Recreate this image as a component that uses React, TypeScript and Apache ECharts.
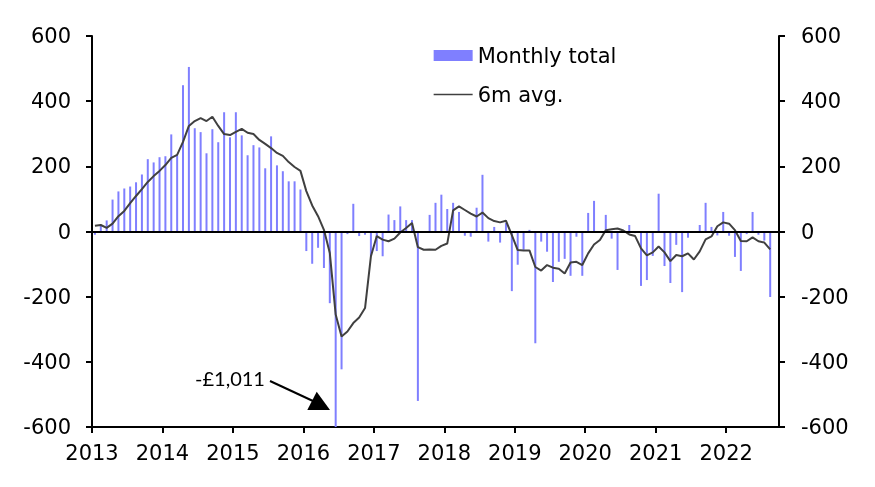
import React, { useEffect, useRef } from 'react';
import * as echarts from 'echarts';

// Year labels on the x axis (each year = 12 monthly slots, starting Jan 2013)
const yearLabels = ['2013', '2014', '2015', '2016', '2017', '2018', '2019', '2020', '2021', '2022'];
const totalSlots = 117; // Jan 2013 .. Sep 2022 end

// Monthly totals, Jan 2013 .. Aug 2022
const monthlyTotal = [
  -10, 18, 34, 98, 123, 132, 138, 151, 175, 222, 212, 228,
  231, 298, 234, 449, 505, 317, 305, 240, 314, 274, 366, 289,
  366, 295, 234, 265, 258, 194, 292, 203, 185, 154, 154, 129,
  -60, -99, -50, -112, -220, -1011, -423, -8, 85, -14, -10, -76,
  -60, -76, 52, 35, 77, 35, 35, -520, -3, 51, 88, 113,
  69, 88, 60, -13, -16, 73, 174, -31, 14, -34, 26, -183,
  -102, -56, 5, -343, -31, -62, -155, -93, -84, -136, -16, -136,
  57, 94, 0, 51, -22, -118, 3, 20, -5, -167, -149, -75,
  116, -106, -158, -41, -186, -19, 0, 20, 88, 14, -12, 60,
  -13, -78, -121, -8, 60, -10, -28, -201,
];

// 6-month average, Jan 2013 .. Aug 2022
const sixMonthAvg = [
  18, 20, 11, 24, 47, 63, 87, 109, 130, 152, 170, 186,
  204, 226, 235, 275, 324, 339, 348, 339, 352, 324, 299, 296,
  306, 315, 303, 299, 281, 269, 256, 241, 232, 213, 198, 186,
  124, 80, 47, 5, -66, -255, -322, -307, -281, -264, -235, -76,
  -14, -25, -30, -22, -3, 11, 26, -48, -56, -55, -56, -44,
  -37, 65, 77, 66, 55, 46, 58, 41, 32, 28, 33, -11,
  -57, -58, -58, -109, -120, -103, -111, -114, -129, -95, -93, -103,
  -67, -40, -26, 4, 7, 9, 3, -9, -14, -52, -73, -64,
  -46, -64, -91, -72, -76, -67, -86, -61, -24, -15, 16, 28,
  24, 4, -29, -30, -18, -30, -34, -55,
];

const yMin = -600;
const yMax = 600;
const yStep = 200;

export default function App() {
  const ref = useRef<HTMLDivElement>(null);

  useEffect(() => {
    if (!ref.current) return;
    const chart = echarts.init(ref.current, null, { renderer: 'svg' });
    const font = 'DejaVu Sans';
    const barData = monthlyTotal.map((v, i) => [i + 0.5, v]);
    const lineData = sixMonthAvg.map((v, i) => [i + 0.5, v]);
    const yearTicks = yearLabels.map((_, i) => i * 12);

    const yAxisCommon: any = {
      type: 'value',
      min: yMin,
      max: yMax,
      interval: yStep,
      axisLine: { show: true, onZero: false, lineStyle: { color: '#000', width: 2 } },
      axisTick: { show: true, inside: false, length: 6, lineStyle: { color: '#000', width: 2 } },
      splitLine: { show: false },
      axisLabel: { color: '#000', fontSize: 21, fontFamily: font, margin: 21 },
    };

    chart.setOption({
      animation: false,
      grid: { left: 92, right: 96, top: 36, bottom: 60, containLabel: false },
      xAxis: {
        type: 'value',
        min: 0,
        max: totalSlots,
        interval: 12,
        axisLine: { show: true, onZero: false, lineStyle: { color: '#000', width: 2 } },
        axisTick: {
          show: true,
          length: 6,
          customValues: yearTicks,
          lineStyle: { color: '#000', width: 2 },
        },
        axisLabel: {
          customValues: yearTicks,
          formatter: (v: number) => yearLabels[Math.round(v / 12)] ?? '',
          color: '#000',
          fontSize: 21,
          fontFamily: font,
          margin: 15,
        },
        splitLine: { show: false },
      },
      yAxis: [
        { ...yAxisCommon, position: 'left' },
        { ...yAxisCommon, position: 'right', axisLabel: { ...yAxisCommon.axisLabel, margin: 22 } },
      ],
      legend: {
        orient: 'vertical',
        left: 428,
        top: 40,
        itemWidth: 39,
        itemHeight: 11,
        itemGap: 18,
        textStyle: { color: '#000', fontSize: 21, fontFamily: font, lineHeight: 21 },
        data: [
          { name: 'Monthly total', icon: 'rect' },
          { name: '6m avg.', lineStyle: { width: 1.3 }, itemStyle: { opacity: 0 } },
        ],
      },
      series: [
        {
          name: 'Monthly total',
          type: 'bar',
          data: barData,
          barWidth: 2,
          itemStyle: { color: '#7f7fff' },
          clip: true,
          markLine: {
            silent: true,
            symbol: ['none', 'none'],
            label: { show: false },
            lineStyle: { color: '#000', width: 2, type: 'solid' },
            data: [{ yAxis: 0 }],
          },
        },
        {
          name: '6m avg.',
          type: 'line',
          data: lineData,
          symbol: 'none',
          lineStyle: { color: '#404040', width: 2 },
          itemStyle: { color: '#404040' },
          z: 3,
        },
      ],
      graphic: [
        {
          type: 'text',
          style: {
            text: '-£1,011',
            x: 230,
            y: 378,
            align: 'center',
            verticalAlign: 'middle',
            font: '20px Lato',
            fill: '#000',
          },
        },
        {
          type: 'line',
          shape: { x1: 270, y1: 381, x2: 313, y2: 401 },
          style: { stroke: '#000', lineWidth: 2 },
        },
        {
          type: 'polygon',
          shape: { points: [[316.7, 391.7], [307.3, 410], [330, 410]] },
          style: { fill: '#000' },
        },
      ],
    });

    return () => chart.dispose();
  }, []);

  return (
    <div
      ref={ref}
      style={{ position: 'fixed', left: 0, top: 0, width: 875, height: 487 }}
    />
  );
}
